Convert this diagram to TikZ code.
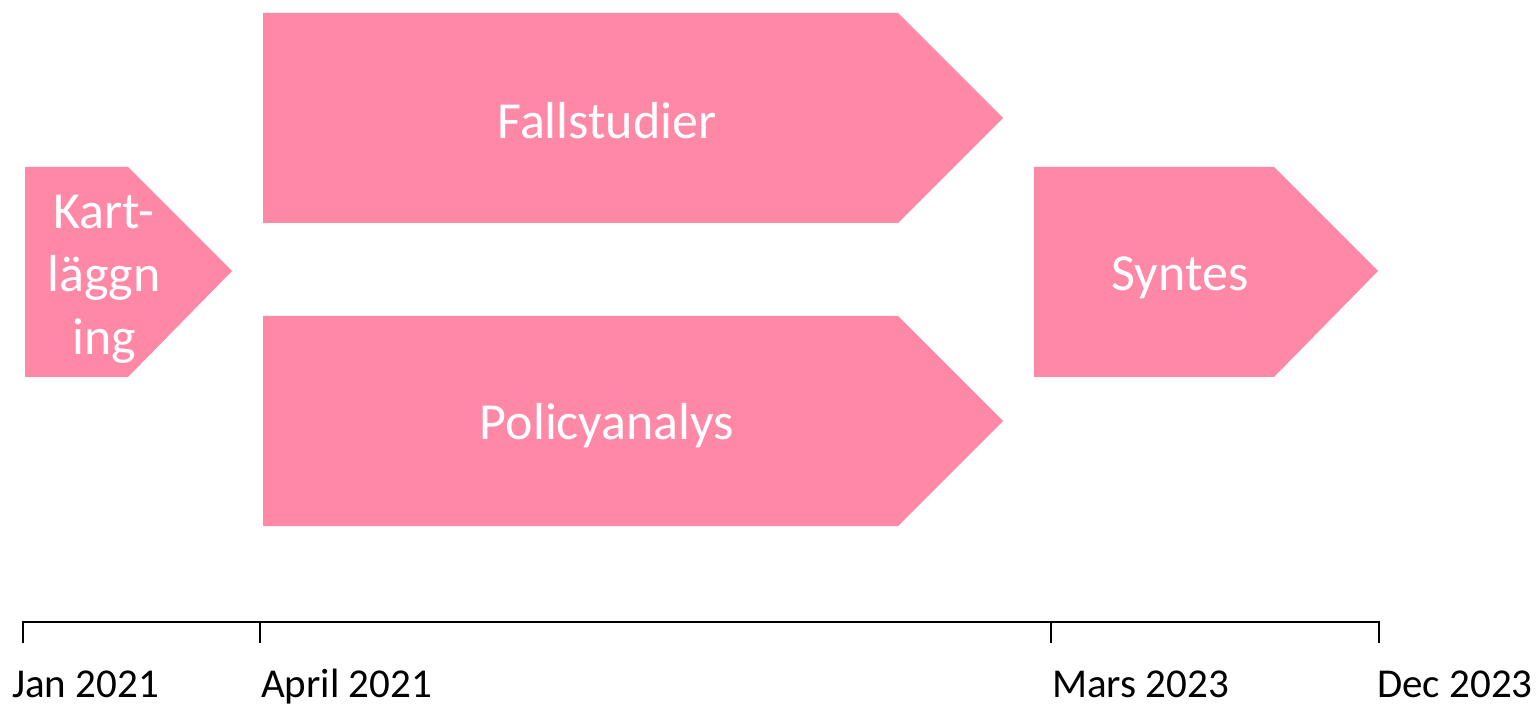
\documentclass[tikz,border=0pt]{standalone}
\usepackage{fontspec}
\setmainfont{Carlito}
\definecolor{phase}{RGB}{255,136,167}
\begin{document}
\begin{tikzpicture}[x=1pt,y=-1pt,
  phasebox/.style={fill=phase,draw=none},
  phasetext/.style={text=white,font=\fontsize{52}{63}\selectfont,align=center,inner sep=0pt},
  datetext/.style={text=black,font=\fontsize{41}{49}\selectfont,inner sep=0pt,anchor=base west},
  axisline/.style={line width=2.6pt,line cap=butt}]
\useasboundingbox (0,0) rectangle (1539,708);
% phase shapes
\fill[phasebox] (25,167) -- (128,167) -- (232,271) -- (128,377) -- (25,377) -- cycle;
\fill[phasebox] (263,13) -- (898,13) -- (1003,118) -- (898,223) -- (263,223) -- cycle;
\fill[phasebox] (263,316) -- (898,316) -- (1003,421) -- (898,526) -- (263,526) -- cycle;
\fill[phasebox] (1034,167) -- (1274,167) -- (1378,271) -- (1274,377) -- (1034,377) -- cycle;
% texts
\node[phasetext] (kart) at (104,279) {Kart-\\läggn\\ing};
\node[phasetext] (fall) at (607,121) {Fallstudier};
\node[phasetext] (policy) at (607,426) {Policyanalys};
\node[phasetext] (syntes) at (1180,278) {Syntes};
% axis
\coordinate (t1) at (23,622);
\coordinate (t2) at (260,622);
\coordinate (t3) at (1051,622);
\coordinate (t4) at (1379,622);
\draw[axisline] ([yshift=-21pt]t1) -- (t1) -- (t4) -- ([yshift=-21pt]t4);
\draw[axisline] (t2) -- ([yshift=-21pt]t2);
\draw[axisline] (t3) -- ([yshift=-21pt]t3);
\node[datetext] (d1) at (12,697) {Jan 2021};
\node[datetext] (d2) at (261,697) {April 2021};
\node[datetext] (d3) at (1052,697) {Mars 2023};
\node[datetext] (d4) at (1377,697) {Dec 2023};
\end{tikzpicture}
\end{document}
